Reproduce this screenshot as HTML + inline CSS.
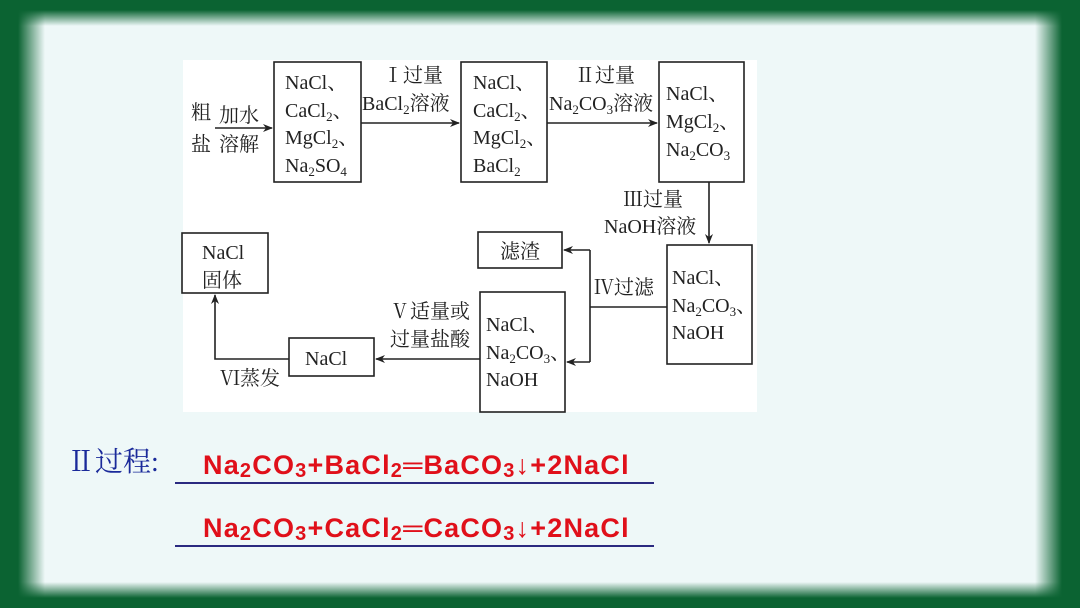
<!DOCTYPE html>
<html><head><meta charset="utf-8"><style>
html,body{margin:0;padding:0}
body{width:1080px;height:608px;position:relative;overflow:hidden;background:#0b6332}
.inner{position:absolute;left:0;top:0;width:1080px;height:608px;
background:
linear-gradient(to right,#0b6332 0px,#0b6332 18px,rgba(238,248,248,0) 45px),
linear-gradient(to left,#0b6332 0px,#0b6332 18px,rgba(238,248,248,0) 45px),
linear-gradient(to bottom,#0b6332 0px,#0b6332 10px,rgba(238,248,248,0) 26px),
linear-gradient(to top,#0b6332 0px,#0b6332 10px,rgba(238,248,248,0) 26px),
#eef8f8;}
svg{position:absolute;left:0;top:0}
.t{font-family:"Liberation Sans","Noto Serif CJK SC",serif;font-size:20px;fill:#222}
.t{font-family:"Liberation Serif","Noto Serif CJK SC",serif}
.eq{font-family:"Liberation Sans","Noto Sans CJK SC",sans-serif;font-size:27px;font-weight:bold;fill:#e0101a;letter-spacing:1.2px}
.s{font-size:20px}
</style></head><body><div class="inner"></div>
<svg width="1080" height="608" viewBox="0 0 1080 608">
<defs><marker id="a" markerWidth="10" markerHeight="8" refX="9" refY="4" orient="auto" markerUnits="userSpaceOnUse"><path d="M0,0 L10,4 L0,8 L3,4z" fill="#222"/></marker></defs>
<rect x="183" y="60" width="574" height="352" fill="#fff"/>
<g fill="none" stroke="#222" stroke-width="1.6">
<rect x="274" y="62" width="87" height="120"/>
<rect x="461" y="62" width="86" height="120"/>
<rect x="659" y="62" width="85" height="120"/>
<rect x="667" y="245" width="85" height="119"/>
<rect x="478" y="232" width="84" height="36"/>
<rect x="480" y="292" width="85" height="120"/>
<rect x="289" y="338" width="85" height="38"/>
<rect x="182" y="233" width="86" height="60"/>
<line x1="215" y1="128" x2="272" y2="128" marker-end="url(#a)"/>
<line x1="361" y1="123" x2="459" y2="123" marker-end="url(#a)"/>
<line x1="547" y1="123" x2="657" y2="123" marker-end="url(#a)"/>
<line x1="709" y1="182" x2="709" y2="243" marker-end="url(#a)"/>
<polyline points="667,307 590,307"/>
<polyline points="590,250 590,362"/>
<line x1="590" y1="250" x2="564" y2="250" marker-end="url(#a)"/>
<line x1="590" y1="362" x2="567" y2="362" marker-end="url(#a)"/>
<line x1="480" y1="359" x2="376" y2="359" marker-end="url(#a)"/>
<polyline points="289,359 215,359 215,295" marker-end="url(#a)"/>
</g>
<g class="t">
<text x="191" y="119">粗</text><text x="191" y="151">盐</text>
<text x="219" y="122">加水</text><text x="219" y="151">溶解</text>
<text x="285" y="89">NaCl、</text><text x="285" y="117">CaCl<tspan font-size="13" dy="4">2</tspan><tspan dy="-4">、</tspan></text>
<text x="285" y="144">MgCl<tspan font-size="13" dy="4">2</tspan><tspan dy="-4">、</tspan></text>
<text x="285" y="172">Na<tspan font-size="13" dy="4">2</tspan><tspan dy="-4">SO</tspan><tspan font-size="13" dy="4">4</tspan></text>
<text x="383" y="82">Ⅰ过量</text>
<text x="362" y="110">BaCl<tspan font-size="13" dy="4">2</tspan><tspan dy="-4">溶液</tspan></text>
<text x="473" y="89">NaCl、</text><text x="473" y="117">CaCl<tspan font-size="13" dy="4">2</tspan><tspan dy="-4">、</tspan></text>
<text x="473" y="144">MgCl<tspan font-size="13" dy="4">2</tspan><tspan dy="-4">、</tspan></text>
<text x="473" y="172">BaCl<tspan font-size="13" dy="4">2</tspan></text>
<text x="575" y="82">Ⅱ过量</text>
<text x="549" y="110">Na<tspan font-size="13" dy="4">2</tspan><tspan dy="-4">CO</tspan><tspan font-size="13" dy="4">3</tspan><tspan dy="-4">溶液</tspan></text>
<text x="666" y="100">NaCl、</text><text x="666" y="128">MgCl<tspan font-size="13" dy="4">2</tspan><tspan dy="-4">、</tspan></text>
<text x="666" y="156">Na<tspan font-size="13" dy="4">2</tspan><tspan dy="-4">CO</tspan><tspan font-size="13" dy="4">3</tspan></text>
<text x="623" y="206">Ⅲ过量</text>
<text x="604" y="233">NaOH溶液</text>
<text x="672" y="284">NaCl、</text><text x="672" y="312">Na<tspan font-size="13" dy="4">2</tspan><tspan dy="-4">CO</tspan><tspan font-size="13" dy="4">3</tspan><tspan dy="-4">、</tspan></text>
<text x="672" y="339">NaOH</text>
<text x="500" y="258">滤渣</text>
<text x="594" y="294">Ⅳ过滤</text>
<text x="486" y="331">NaCl、</text><text x="486" y="359">Na<tspan font-size="13" dy="4">2</tspan><tspan dy="-4">CO</tspan><tspan font-size="13" dy="4">3</tspan><tspan dy="-4">、</tspan></text>
<text x="486" y="386">NaOH</text>
<text x="390" y="318">Ⅴ适量或</text>
<text x="390" y="346">过量盐酸</text>
<text x="305" y="365">NaCl</text>
<text x="220" y="385">Ⅵ蒸发</text>
<text x="202" y="259">NaCl</text><text x="202" y="287">固体</text>
</g>
<text x="67" y="471" font-family="Liberation Serif,Noto Serif CJK SC,serif" font-size="28" fill="#1a2a9a">Ⅱ过程:</text>
<text class="eq" x="203" y="474">Na<tspan class="s" dy="3">2</tspan><tspan dy="-3">CO</tspan><tspan class="s" dy="3">3</tspan><tspan dy="-3">+BaCl</tspan><tspan class="s" dy="3">2</tspan><tspan dy="-3">═BaCO</tspan><tspan class="s" dy="3">3</tspan><tspan dy="-3">↓+2NaCl</tspan></text>
<text class="eq" x="203" y="537">Na<tspan class="s" dy="3">2</tspan><tspan dy="-3">CO</tspan><tspan class="s" dy="3">3</tspan><tspan dy="-3">+CaCl</tspan><tspan class="s" dy="3">2</tspan><tspan dy="-3">═CaCO</tspan><tspan class="s" dy="3">3</tspan><tspan dy="-3">↓+2NaCl</tspan></text>
<line x1="175" y1="483" x2="654" y2="483" stroke="#2a2a80" stroke-width="2"/>
<line x1="175" y1="546" x2="654" y2="546" stroke="#2a2a80" stroke-width="2"/>
</svg></body></html>
